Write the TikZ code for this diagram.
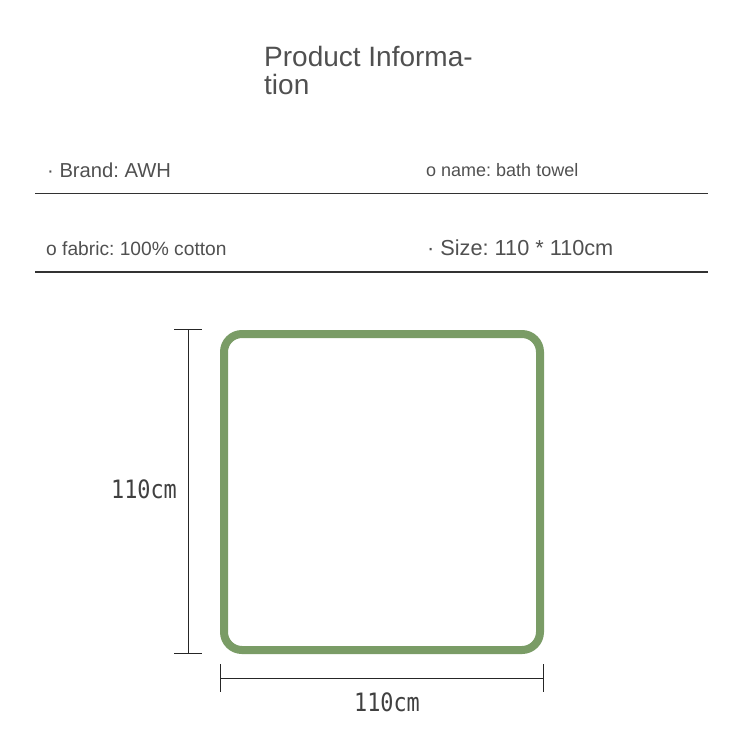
\documentclass[tikz,border=0pt]{standalone}
\usepackage{fontspec}
\setmainfont{Liberation Sans}
\newfontfamily\dimfont{DejaVu Sans Mono}
\definecolor{towel}{RGB}{122,156,102}
\definecolor{txt}{RGB}{80,80,80}
\definecolor{rule}{RGB}{50,50,50}
\frenchspacing

\begin{document}
\begin{tikzpicture}[
x=1pt, y=-1pt,
title/.style={anchor=base west, inner sep=0pt, text=txt, font=\fontsize{28}{30}\selectfont},
row/.style={anchor=base west, inner sep=0pt, text=txt, font=\fontsize{#1}{#1}\selectfont},
sep/.style={draw=rule, line width=1.2pt},
dim/.style={draw=black!85, line width=0.9pt},
dimtxt/.style={inner sep=0pt, text=black!75, font=\dimfont\fontsize{23}{26}\selectfont, yscale=1.1, xscale=0.95},
edge/.style={draw=towel, line width=8pt, rounded corners=18pt}
]
\useasboundingbox (0,0) rectangle (750,739);

\def\l{35}
\def\r{708}

%%% title
\node[title] (t1) at (264,66) {Product Informa-};
\node[title] (t2) at (264,94) {tion};

%%% info rows
\foreach \name/\x/\y/\sz/\txt in {
	brand/47/177/20.2/{· Brand: AWH},
	tname/426/176/18.0/{o name: bath towel},
	fabric/46/255/19.2/{o fabric: 100\% cotton},
	size/427/255/21.7/{· Size: 110 * 110cm}
	}{
	\node[row=\sz] (\name) at (\x,\y) {\txt};
}
\foreach \y in {193.5,272}{
	\draw[sep] (\l,\y) -- (\r,\y);
}

%%% towel
\draw[edge] (224,334) rectangle (540,650);

%%% height
\coordinate (ht) at (188,329);
\coordinate (hb) at (188,653);
\draw[dim] (ht) -- (hb);
\draw[dim] (ht)++(-14,0) -- ++(28,0);
\draw[dim] (hb)++(-14,0) -- ++(28,0);
\node[dimtxt] (hlab) at (144,489) {110cm};

%%% width
\coordinate (wl) at (220,678);
\coordinate (wr) at (543,678);
\draw[dim] (wl) -- (wr);
\draw[dim] (wl)++(0,-14) -- ++(0,28);
\draw[dim] (wr)++(0,-14) -- ++(0,28);
\node[dimtxt] (wlab) at (387,702) {110cm};

\end{tikzpicture}
\end{document}
